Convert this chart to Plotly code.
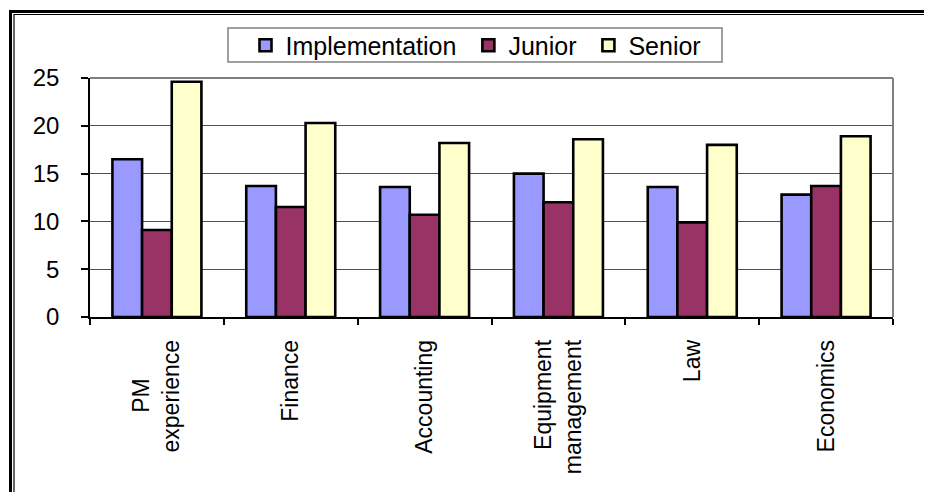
import plotly.graph_objects as go

categories = ["PM&nbsp;&nbsp;&nbsp;&nbsp;&nbsp;&nbsp;<br>experience", "Finance", "Accounting",
              "Equipment<br>management", "Law", "Economics"]
series_names = ["Implementation&nbsp;", "Junior&nbsp;", "Senior"]
implementation = [16.5, 13.7, 13.6, 15.0, 13.6, 12.8]
junior = [9.1, 11.5, 10.7, 12.0, 9.9, 13.7]
senior = [24.6, 20.3, 18.2, 18.6, 18.0, 18.9]
y_ticks = [0, 5, 10, 15, 20, 25]

W, H = 925, 492
L, R, T, B = 90, 893, 78, 317

def px(x):
    return (x - L) / (R - L)

def py(y):
    return (B - y) / (B - T)

font = "Liberation Sans, Arial, sans-serif"
line = dict(color="black", width=2.6)

fig = go.Figure()
for name, vals, col in zip(series_names, [implementation, junior, senior],
                           ["#9999FF", "#993366", "#FFFFCC"]):
    fig.add_trace(go.Bar(name=name, x=categories, y=vals,
                         marker=dict(color=col, line=line)))

shapes = [
    # plot area border (top/right, gray)
    dict(type="line", xref="paper", yref="paper", x0=0, x1=1, y0=1, y1=1,
         line=dict(color="#808080", width=2)),
    dict(type="line", xref="paper", yref="paper", x0=1, x1=1, y0=0, y1=1,
         line=dict(color="#808080", width=2)),
    # legend box
    dict(type="rect", xref="paper", yref="paper", x0=px(228), x1=px(722), y0=py(28), y1=py(62),
         line=dict(color="#808080", width=1.5), fillcolor="white", layer="below"),
    # outer double frame
    dict(type="line", xref="paper", yref="paper", x0=px(10.5), x1=px(10.5), y0=py(10), y1=py(492),
         line=dict(color="black", width=3)),
    dict(type="line", xref="paper", yref="paper", x0=px(14), x1=px(14), y0=py(14), y1=py(492),
         line=dict(color="black", width=1.2)),
    dict(type="line", xref="paper", yref="paper", x0=px(9), x1=px(924), y0=py(11.5), y1=py(11.5),
         line=dict(color="black", width=3)),
    dict(type="line", xref="paper", yref="paper", x0=px(14), x1=px(924), y0=py(14.5), y1=py(14.5),
         line=dict(color="black", width=1.2)),
]

fig.update_layout(
    width=W, height=H,
    margin=dict(l=L, r=W - R, t=T, b=H - B, pad=0),
    paper_bgcolor="white", plot_bgcolor="white",
    barmode="group", bargap=0.335, bargroupgap=0,
    font=dict(family=font, size=23, color="black"),
    showlegend=True,
    legend=dict(orientation="h", x=px(476), xanchor="center", y=py(45.5), yanchor="middle",
                borderwidth=0, bgcolor="rgba(0,0,0,0)",
                font=dict(size=25), traceorder="normal"),
    shapes=shapes,
    xaxis=dict(showgrid=False, showline=True, linecolor="black", linewidth=1.5,
               ticks="outside", tickson="boundaries", ticklen=6, tickcolor="black",
               tickwidth=1.5, tickangle=-90, tickfont=dict(size=23),
               ticklabelstandoff=12),
    yaxis=dict(range=[0, 25], tickvals=y_ticks, showgrid=True, gridcolor="#505050",
               gridwidth=1.3, showline=True, linecolor="black", linewidth=1.5,
               ticks="outside", ticklen=7, tickcolor="black", tickwidth=1.5,
               tickfont=dict(size=24), ticklabelstandoff=17, zeroline=False),
)

fig.write_html("out.html", config={"displayModeBar": False})
